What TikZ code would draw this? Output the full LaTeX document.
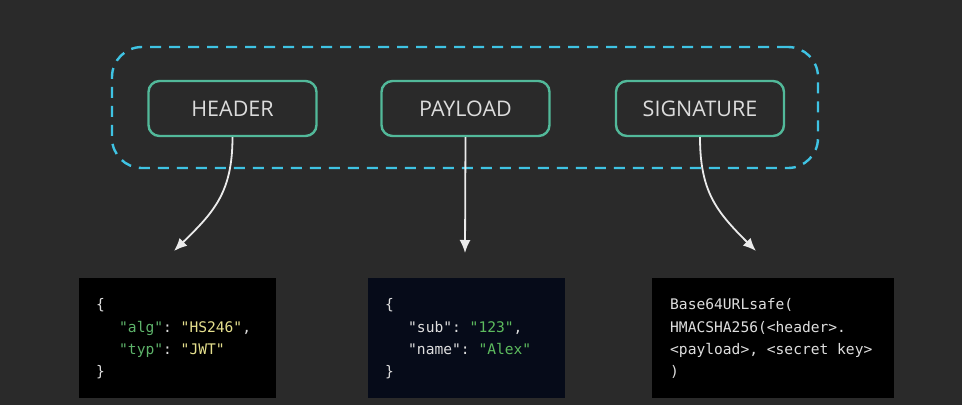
\documentclass[tikz,border=0pt]{standalone}
\usepackage{fontspec}
\setmainfont{Open Sans}
\setmonofont{DejaVu Sans Mono}
\usetikzlibrary{arrows.meta,calc}
\definecolor{bg}{HTML}{2A2A2A}
\definecolor{dashcyan}{HTML}{3FC3E3}
\definecolor{boxgreen}{HTML}{52B99A}
\definecolor{labelgray}{HTML}{DCDCDC}
\definecolor{codewhite}{HTML}{DEDEDE}
\definecolor{keygreen}{HTML}{5DB36A}
\definecolor{valyellow}{HTML}{E6E08E}
\definecolor{valgreen}{HTML}{5DBB5E}
\definecolor{navy}{HTML}{060B19}
\begin{document}
\begin{tikzpicture}[x=1pt,y=-1pt,
  partbox/.style={draw=boxgreen, line width=2.4pt, rounded corners=11pt, fill=bg,
    minimum width=168pt, minimum height=55pt, inner sep=0pt,
    font=\fontsize{21.5}{24}\selectfont, text=labelgray},
  codebox/.style={inner sep=0pt, minimum height=120pt, anchor=north west},
  codeline/.style={anchor=base west, inner sep=0pt, font=\ttfamily\fontsize{14.6}{18}\selectfont, text=codewhite},
  flow/.style={draw=white!92!black, line width=1.8pt, -{Latex[length=13pt,width=11pt]}}
]
\fill[bg] (0,0) rectangle (962,405);
\useasboundingbox (0,0) rectangle (962,405);

% dashed group
\node[draw=dashcyan, line width=2.4pt, dash pattern=on 11pt off 8pt, rounded corners=30pt,
  minimum width=706pt, minimum height=121pt, inner sep=0pt] (group) at (465,107.5) {};

% part boxes
\node[partbox] (header) at (232.5,108.5) {HEADER};
\node[partbox] (payload) at (465.5,108.5) {PAYLOAD};
\node[partbox] (signature) at (700,108.5) {SIGNATURE};

% code boxes
\node[codebox, fill=black, minimum width=197pt] (hcode) at (79,278) {};
\node[codebox, fill=navy, minimum width=197pt] (pcode) at (368,278) {};
\node[codebox, fill=black, minimum width=242pt] (scode) at (652,278) {};

% header code
\node[codeline] (h1) at (96,309) {\{};
\node[codeline] (h2) at (119,332) {\textcolor{keygreen}{"alg"}: \textcolor{valyellow}{"HS246"},};
\node[codeline] (h3) at (119,354) {\textcolor{keygreen}{"typ"}: \textcolor{valyellow}{"JWT"}};
\node[codeline] (h4) at (96,376) {\}};

% payload code
\node[codeline] (p1) at (385,309) {\{};
\node[codeline] (p2) at (408,332) {"sub": \textcolor{valgreen}{"123"},};
\node[codeline] (p3) at (408,354) {"name": \textcolor{valgreen}{"Alex"}};
\node[codeline] (p4) at (385,376) {\}};

% signature code
\node[codeline] (s1) at (670,309) {Base64URLsafe(};
\node[codeline] (s2) at (670,332) {HMACSHA256(<header>.};
\node[codeline] (s3) at (670,354) {<payload>, <secret key>};
\node[codeline] (s4) at (670,376) {)};

% arrow end points
\coordinate (hend) at (174,251);
\coordinate (pend) at (465,253);
\coordinate (send) at (756,251);

\draw[flow] (header.south) .. controls ($(header.south)+(0,55)$) and (214,212) .. (hend);
\draw[flow] (payload.south) -- (pend);
\draw[flow] (signature.south) .. controls ($(signature.south)+(0,55)$) and (717,212) .. (send);
\end{tikzpicture}
\end{document}
